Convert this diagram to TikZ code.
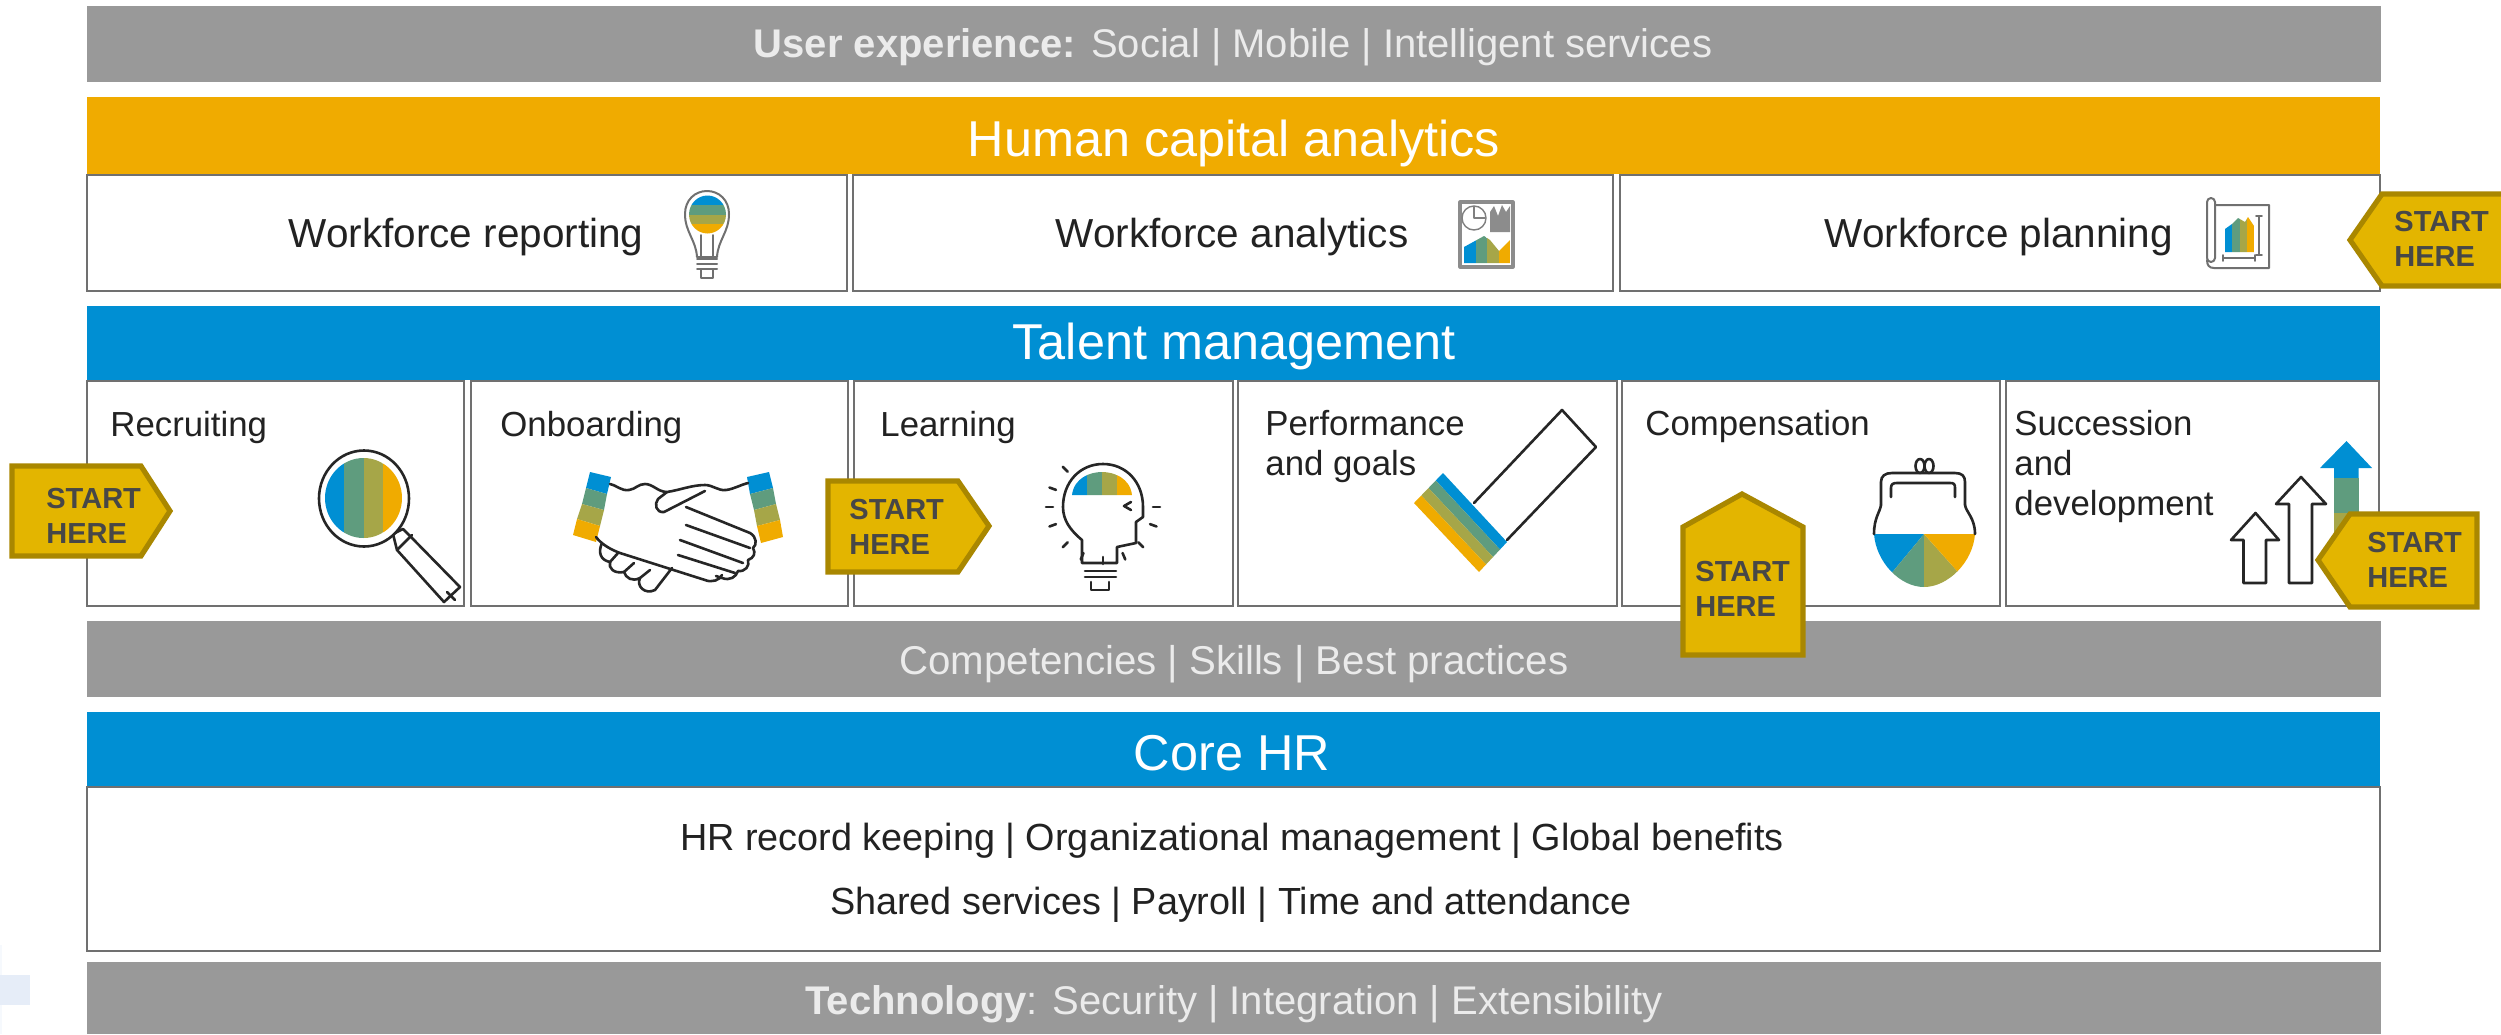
\documentclass[tikz,border=0pt]{standalone}
\usepackage{fontspec}
\setmainfont{Liberation Sans}
\usetikzlibrary{calc}
\definecolor{barblue}{HTML}{008FD3}
\definecolor{barorange}{HTML}{F0AB00}
\definecolor{bargrey}{HTML}{999999}
\definecolor{cb}{HTML}{008FD3}
\definecolor{cg}{HTML}{5F9C7E}
\definecolor{co}{HTML}{A6A648}
\definecolor{cy}{HTML}{F0AB00}
\definecolor{edgegrey}{HTML}{707070}
\definecolor{callfill}{HTML}{E3B500}
\definecolor{callline}{HTML}{A98700}
\definecolor{calltext}{HTML}{474747}
\definecolor{inktext}{HTML}{222222}
\definecolor{faint}{HTML}{E6EDF8}
\definecolor{fainter}{HTML}{F6F9FD}
\newcommand{\fs}[1]{\fontsize{#1}{#1}\selectfont}
\newcommand{\vstripes}[4]{% x0, stripe width, y0, y1
  \pgfmathsetmacro\xa{#1+#2}\pgfmathsetmacro\xb{#1+2*#2}\pgfmathsetmacro\xc{#1+3*#2}\pgfmathsetmacro\xd{#1+4*#2}
  \fill[cb] (#1,#3) rectangle (\xa,#4);
  \fill[cg] (\xa,#3) rectangle (\xb,#4);
  \fill[co] (\xb,#3) rectangle (\xc,#4);
  \fill[cy] (\xc,#3) rectangle (\xd,#4);}
\tikzset{
  cell/.style={draw=edgegrey,line width=1.3pt,fill=white},
  bartext/.style={anchor=base,inner sep=0pt,text=white},
  softtext/.style={anchor=base,inner sep=0pt,text=white!92!black},
  inktxt/.style={anchor=base,inner sep=0pt,text=inktext},
  lefttxt/.style={anchor=base west,inner sep=0pt,text=inktext,font=\fs{17.4}},
  icon/.style={draw=black!85,line width=1.3pt,line join=round,line cap=round},
  thinicon/.style={draw=edgegrey,line width=1pt,line join=round,line cap=round},
  callout/.style={draw=callline,fill=callfill,line width=2.6pt,line join=miter},
  calltxt/.style={anchor=base west,inner sep=0pt,text=calltext,font=\fs{14.5}\bfseries},
}
\begin{document}
\begin{tikzpicture}[x=0.5pt,y=-0.5pt]
\clip (0,0) rectangle (2501,1034);
\fill[white] (0,0) rectangle (2501,1034);
% faint marks lower left
\fill[fainter] (0,945) rectangle (2,1034);
\fill[faint] (0,975) rectangle (30,1005);
% bars
\fill[bargrey] (87,6) rectangle (2381,82);
\fill[barorange] (87,97) rectangle (2380,174);
\draw[cell] (87,175) rectangle (847,291);
\draw[cell] (853,175) rectangle (1613,291);
\draw[cell] (1620,175) rectangle (2380,291);
\fill[barblue] (87,306) rectangle (2380,380);
\draw[cell] (87,381) rectangle (464,606);
\draw[cell] (471,381) rectangle (848,606);
\draw[cell] (854,381) rectangle (1233,606);
\draw[cell] (1238,381) rectangle (1617,606);
\draw[cell] (1622,381) rectangle (2000,606);
\draw[cell] (2006,381) rectangle (2379,606);
\fill[bargrey] (87,621) rectangle (2381,697);
\fill[barblue] (87,712) rectangle (2380,787);
\draw[cell] (87,787) rectangle (2380,951);
\fill[bargrey] (87,962) rectangle (2381,1034);
% bar texts
\node[softtext,font=\fs{20}] (ux) at (1233,57) {\textbf{User experience:} Social | Mobile | Intelligent services};
\node[bartext,font=\fs{25.2}] (hca) at (1234,156) {Human capital analytics};
\node[bartext,font=\fs{25.2}] (tm) at (1234,359) {Talent management};
\node[softtext,font=\fs{20.1}] (comp) at (1234,674) {Competencies | Skills | Best practices};
\node[bartext,font=\fs{25.2}] (core) at (1232,770) {Core HR};
\node[inktxt,font=\fs{18.9}] (hr1) at (1232,850) {HR record keeping | Organizational management | Global benefits};
\node[inktxt,font=\fs{18.9}] (hr2) at (1231,914) {Shared services | Payroll | Time and attendance};
\node[softtext,font=\fs{20}] (tech) at (1234,1014) {\textbf{Technology}: Security | Integration | Extensibility};
% analytics row text
\node[inktxt,font=\fs{20.25}] (wr) at (466,247) {Workforce reporting};
\node[inktxt,font=\fs{20.25}] (wa) at (1232,247) {Workforce analytics};
\node[inktxt,font=\fs{20.25}] (wp) at (1999,247) {Workforce planning};
% talent labels
\node[lefttxt] (rec) at (110,436) {Recruiting};
\node[lefttxt] (onb) at (500,436) {Onboarding};
\node[lefttxt] (lea) at (880,436) {Learning};
\node[lefttxt] (pe1) at (1265,435) {Performance};
\node[lefttxt] (pe2) at (1265,475) {and goals};
\node[lefttxt] (cmp) at (1645,435) {Compensation};
\node[lefttxt] (su1) at (2014,435) {Succession};
\node[lefttxt] (su2) at (2014,475) {and};
\node[lefttxt] (su3) at (2014,515) {development};
% --- small bulb (workforce reporting)
\begin{scope}
\clip (707.5,214.5) ellipse [x radius=18.5,y radius=19];
\fill[cb] (685,190) rectangle (730,205);
\fill[cg] (685,205) rectangle (730,215);
\fill[co] (685,215) rectangle (730,224);
\fill[cy] (685,224) rectangle (730,240);
\end{scope}
\draw[thinicon] (697,257) .. controls (696,240) and (685,232) .. (685,214) .. controls (685,200) and (695,191) .. (707,191) .. controls (719,191) and (729,200) .. (729,214) .. controls (729,232) and (718,240) .. (717,257) -- cycle;
\draw[thinicon] (701,235) -- (701,256) (713,235) -- (713,256);
\draw[thinicon] (697,259) -- (717,259) (697,264) -- (717,264) (697,269) -- (717,269);
\draw[thinicon] (701,270) -- (701,278) -- (713,278) -- (713,270);
% --- analytics icon
\draw[thinicon,draw=black!45,line width=1.6pt,fill=white] (1460,202) rectangle (1513,267);
\draw[thinicon,draw=black!50,line width=.7pt] (1474,218) circle [radius=12];
\draw[thinicon,draw=black!50,line width=.7pt] (1474,207) -- (1474,218) -- (1485,218);
\fill[black!45] (1490,232) -- (1490,212) -- (1494,206) -- (1498,216) -- (1502,205) -- (1506,212) -- (1510,206) -- (1510,232) -- cycle;
\begin{scope}
\clip (1464,263) -- (1464,247) -- (1484,236) -- (1490,240) -- (1499,251) -- (1510,240) -- (1510,263) -- cycle;
\vstripes{1464}{11.5}{230}{265}
\end{scope}
% --- planning icon
\draw[thinicon] (2207,205) -- (2269,205) -- (2269,268) -- (2214,268) .. controls (2209,268) and (2207,265) .. (2207,260);
\draw[thinicon,fill=white,rounded corners=2pt] (2207,198) rectangle (2215,262);
\begin{scope}
\clip (2225,252) -- (2225,229) -- (2232,224) -- (2238,218) -- (2245,222) -- (2248,217) -- (2254,226) -- (2254,252) -- cycle;
\vstripes{2225}{7.25}{215}{253}
\end{scope}
\draw[thinicon,line width=.8pt] (2259,216) -- (2259,255) (2256,216) -- (2262,216) (2256,255) -- (2262,255);
\draw[thinicon,line width=.8pt] (2223,258) -- (2255,258) (2223,255) -- (2223,261) (2255,255) -- (2255,261);
% --- magnifier
\draw[icon,fill=white] (393,534) -- (403,529) -- (412,538) -- (460,587) -- (444,602) -- (397,550) -- cycle;
\draw[icon,fill=white] (397,550) -- (412,535) (447,592) -- (455,600);
\draw[icon,fill=white] (364,498.5) ellipse [x radius=45,y radius=48];
\begin{scope}
\clip (363.5,498) ellipse [x radius=38.5,y radius=40];
\vstripes{325}{19.25}{455}{542}
\end{scope}
% --- handshake
\fill[cb] (590,472) -- (611,477) -- (607,494) -- (586,488) -- cycle;
\fill[cg] (586,488) -- (607,494) -- (604,510) -- (582,504) -- cycle;
\fill[co] (582,504) -- (604,510) -- (600,526) -- (577,519) -- cycle;
\fill[cy] (577,519) -- (600,526) -- (596,542) -- (573,535) -- cycle;
\fill[cb] (747,477) -- (769,472) -- (773,488) -- (750,494) -- cycle;
\fill[cg] (750,494) -- (773,488) -- (776,504) -- (754,510) -- cycle;
\fill[co] (754,510) -- (776,504) -- (780,520) -- (757,526) -- cycle;
\fill[cy] (757,526) -- (780,520) -- (783,537) -- (761,543) -- cycle;
\draw[icon] (610,484) .. controls (618,486) and (621,491) .. (629,490) .. controls (636,489) and (638,484) .. (645,484) .. controls (653,484) and (658,492) .. (667,492) .. controls (680,490) and (692,485) .. (705,485) .. controls (713,485) and (718,491) .. (726,490) .. controls (734,489) and (740,485) .. (748,483);
\draw[icon] (667,492) -- (658,499) .. controls (654,504) and (656,513) .. (664,512) -- (705,491);
\draw[icon] (686,507) -- (750,533) .. controls (757,537) and (757,545) .. (753,548) .. controls (756,553) and (754,558) .. (748,560) .. controls (750,566) and (745,572) .. (738,571) .. controls (736,577) and (730,581) .. (722,578) -- (716,576);
\draw[icon] (596,537) .. controls (602,545) and (612,550) .. (620,553) -- (705,580) .. controls (712,583) and (720,580) .. (722,575);
\draw[icon] (686,525) -- (750,548) (680,540) -- (743,563) (678,555) -- (735,573);
\draw[icon] (602,543) .. controls (598,552) and (600,560) .. (610,562) .. controls (608,568) and (614,574) .. (624,572) .. controls (626,578) and (632,582) .. (640,578) .. controls (636,586) and (645,595) .. (655,590) -- (672,568);
\draw[icon] (640,578) -- (650,570) (624,572) -- (634,563) (610,562) -- (618,553);
% --- head bulb
\begin{scope}
\clip (1072,495) .. controls (1074,478) and (1090,472) .. (1102,472) .. controls (1114,472) and (1130,478) .. (1132,495) -- cycle;
\vstripes{1072}{15}{465}{497}
\end{scope}
\draw[icon] (1082,563) -- (1082,540) .. controls (1070,530) and (1063,520) .. (1063,507) .. controls (1063,482) and (1080,464) .. (1103,464) .. controls (1126,464) and (1143,482) .. (1143,507) -- (1143,517) -- (1136,522) -- (1136,543) -- (1117,547) -- (1117,563) -- cycle;
\draw[icon] (1131,502) -- (1124,506) -- (1131,510);
\draw[icon] (1085,571) -- (1116,571) (1085,577) -- (1116,577);
\draw[icon] (1091,582) -- (1091,590) -- (1109,590) -- (1109,582);
\foreach \ang in {90,67,113,45,135,20,160,0,180,200,225}{
  \draw[icon] ($(1103,507)+(\ang:50)$) -- ($(1103,507)+(\ang:57)$);
}
% --- check mark
\draw[icon,fill=white] (1474,503) -- (1562,410) -- (1596,447) -- (1507,540);
\coordinate (ca) at (1443,473);
\coordinate (cb2) at (1507,542);
\coordinate (cc) at (1414,503);
\coordinate (cd) at (1479,572);
\fill[cb] (ca) -- (cb2) -- ($(cb2)!.25!(cd)$) -- ($(ca)!.25!(cc)$) -- cycle;
\fill[cg] ($(ca)!.25!(cc)$) -- ($(cb2)!.25!(cd)$) -- ($(cb2)!.5!(cd)$) -- ($(ca)!.5!(cc)$) -- cycle;
\fill[co] ($(ca)!.5!(cc)$) -- ($(cb2)!.5!(cd)$) -- ($(cb2)!.75!(cd)$) -- ($(ca)!.75!(cc)$) -- cycle;
\fill[cy] ($(ca)!.75!(cc)$) -- ($(cb2)!.75!(cd)$) -- (cd) -- (cc) -- cycle;
% --- purse
\begin{scope}
\clip (1874,534) .. controls (1876,562) and (1900,587) .. (1924,587) .. controls (1948,587) and (1973,562) .. (1975,534) -- cycle;
\fill[cb] (1924,534) -- (1870,534) -- (1870,590) -- (1890,575) -- cycle;
\fill[cg] (1924,534) -- (1890,575) -- (1870,590) -- (1924,590) -- cycle;
\fill[co] (1924,534) -- (1924,590) -- (1980,590) -- (1958,572) -- cycle;
\fill[cy] (1924,534) -- (1958,572) -- (1980,590) -- (1980,534) -- cycle;
\end{scope}
\draw[icon] (1881,505) -- (1881,482) .. controls (1881,476) and (1885,473) .. (1892,473) -- (1955,473) .. controls (1962,473) and (1965,476) .. (1965,482) -- (1965,505);
\draw[icon] (1891,497) -- (1891,488) .. controls (1891,484) and (1893,483) .. (1897,483) -- (1950,483) .. controls (1954,483) and (1955,484) .. (1955,488) -- (1955,497);
\draw[icon] (1920,466) ellipse [x radius=4.5,y radius=7];
\draw[icon] (1929,466) ellipse [x radius=4.5,y radius=7];
\draw[icon] (1881,505) .. controls (1880,512) and (1874,518) .. (1874,534);
\draw[icon] (1965,505) .. controls (1966,512) and (1975,518) .. (1975,534);
% --- arrows
\draw[icon] (2255.5,513) -- (2279,540) -- (2266,540) -- (2266,583) -- (2243.5,583) -- (2243.5,540) -- (2231,540) -- cycle;
\draw[icon] (2301,477) -- (2326,504) -- (2312,504) -- (2312,583) -- (2289,583) -- (2289,504) -- (2276,504) -- cycle;
\fill[cb] (2346.5,441) -- (2372,468) -- (2358.5,468) -- (2358.5,478) -- (2334,478) -- (2334,468) -- (2320,468) -- cycle;
\fill[cg] (2334,478) rectangle (2358.5,513);
\fill[co] (2334,513) rectangle (2358.5,545);
% --- callouts
\draw[callout] (12,466) -- (141,466) -- (170,511) -- (141,556) -- (12,556) -- cycle;
\draw[callout] (828,481) -- (958,481) -- (989,526) -- (958,572) -- (828,572) -- cycle;
\draw[callout] (2382,194) -- (2510,194) -- (2510,286) -- (2382,286) -- (2350,240) -- cycle;
\draw[callout] (1742,494) -- (1803,527) -- (1803,655) -- (1683,655) -- (1683,527) -- cycle;
\draw[callout] (2318,560) -- (2350,514) -- (2477,514) -- (2477,607) -- (2350,607) -- cycle;
\node[calltxt] (s1a) at (46,508) {START};
\node[calltxt] (s1b) at (46,543) {HERE};
\node[calltxt] (s2a) at (849,519) {START};
\node[calltxt] (s2b) at (849,554) {HERE};
\node[calltxt] (s3a) at (2394,231) {START};
\node[calltxt] (s3b) at (2394,266) {HERE};
\node[calltxt] (s4a) at (1695,581) {START};
\node[calltxt] (s4b) at (1695,616) {HERE};
\node[calltxt] (s5a) at (2367,552) {START};
\node[calltxt] (s5b) at (2367,587) {HERE};
\end{tikzpicture}
\end{document}
